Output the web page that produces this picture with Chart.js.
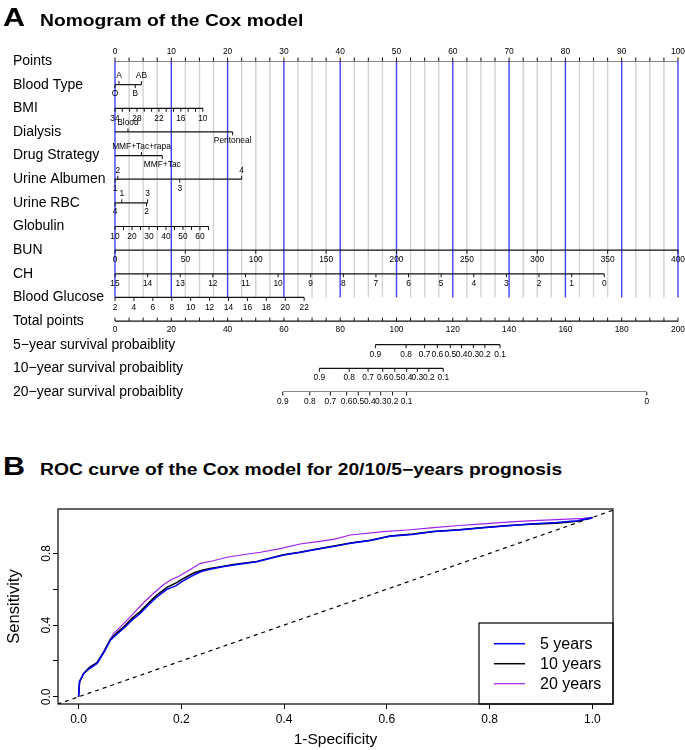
<!DOCTYPE html>
<html lang="en">
<head>
  <meta charset="UTF-8">
  <title>Nomogram and ROC curve of the Cox model</title>
  <script src="https://cdn.jsdelivr.net/npm/chart.js"></script>
  <style>
    body {
      margin: 0;
      background: #fff;
      font-family: 'Liberation Sans', Arial, Helvetica, sans-serif;
    }
    .page { position: relative; width: 685px; height: 750px; overflow: hidden; }
    .tag, .head {
      position: absolute;
      font-weight: bold;
      color: #000;
      line-height: 1;
      white-space: nowrap;
      transform-origin: 0 0;
      transform: scaleX(1.22);
    }
    .tag { font-size: 25px; }
    .head { font-size: 15.8px; }
    #nomo { position: absolute; left: 0; top: 0; }
    #roc { position: absolute; left: 0; top: 495px; }
  </style>
</head>
<body>
<div class="page">
  <canvas id="nomo" width="685" height="410" style="width:685px;height:410px"></canvas>
  <canvas id="roc" width="685" height="255" style="width:685px;height:255px"></canvas>
  <div class="tag" style="left:3px;top:5px">A</div>
  <div class="head" style="left:40px;top:13px">Nomogram of the Cox model</div>
  <div class="tag" style="left:3px;top:454px">B</div>
  <div class="head" style="left:40px;top:462px">ROC curve of the Cox model for 20/10/5&minus;years prognosis</div>
</div>

<script>
  const FONT = "'Liberation Sans', Arial, Helvetica, sans-serif";

  // ---- nomogram data ----
  const rowNames = ['Points', 'Blood Type', 'BMI', 'Dialysis', 'Drug Strategy', 'Urine Albumen',
    'Urine RBC', 'Globulin', 'BUN', 'CH', 'Blood Glucose', 'Total points',
    '5\u2212year survival probaiblity', '10\u2212year survival probaiblity', '20\u2212year survival probaiblity'];

  const pointsLabels = [0, 10, 20, 30, 40, 50, 60, 70, 80, 90, 100];
  const pointsMinorStep = 2.5;

  const bloodTypeLevels = ['O', 'A', 'B', 'AB'];
  const bloodTypePoints = [0, 0.7, 3.6, 4.7];

  const bmiTicks = [34, 32, 30, 28, 26, 24, 22, 20, 18, 16, 14, 12, 10];
  const bmiLabels = [34, 28, 22, 16, 10];
  const bmiPoints = [0, 15.6];

  const dialysisLevels = ['Blood', 'Peritoneal'];
  const dialysisPoints = [2.3, 20.9];

  const drugLevels = ['MMF+Tac+rapa', 'MMF+Tac'];
  const drugPoints = [4.7, 8.4];

  const albumenLevels = ['1', '2', '3', '4'];
  const albumenPoints = [0, 0.5, 11.5, 22.5];

  const rbcLevels = ['4', '1', '2', '3'];
  const rbcPoints = [0, 1.2, 5.6, 5.8];

  const globulinTicks = [10, 15, 20, 25, 30, 35, 40, 45, 50, 55, 60, 65];
  const globulinLabels = [10, 20, 30, 40, 50, 60];
  const globulinPoints = [0, 16.6];

  const bunTicks = [0, 50, 100, 150, 200, 250, 300, 350, 400];
  const bunPoints = [0, 100];

  const chTicks = [15, 14, 13, 12, 11, 10, 9, 8, 7, 6, 5, 4, 3, 2, 1, 0];
  const chPoints = [0, 86.9];

  const glucoseTicks = [2, 4, 6, 8, 10, 12, 14, 16, 18, 20, 22];
  const glucosePoints = [0, 33.6];

  const totalLabels = [0, 20, 40, 60, 80, 100, 120, 140, 160, 180, 200];
  const totalMinorStep = 5;

  const survLabels = ['0.9', '0.8', '0.7', '0.6', '0.5', '0.4', '0.3', '0.2', '0.1'];
  const surv5Total = [92.5, 103.4, 110.0, 114.5, 119.1, 123.1, 127.3, 131.4, 136.8];
  const surv10Total = [72.6, 83.2, 89.9, 95.1, 99.4, 103.6, 107.4, 111.5, 116.6];
  const surv20Labels = ['0.9', '0.8', '0.7', '0.6', '0.5', '0.4', '0.3', '0.2', '0.1', '0'];
  const surv20Total = [59.6, 69.2, 76.5, 82.3, 86.4, 90.5, 94.4, 98.6, 103.6, 188.9];

  // ---- ROC data ----
  const seriesNames = ['5 years', '10 years', '20 years'];
  const fpr5 = [0, 0.002, 0.01, 0.02, 0.036, 0.05, 0.062, 0.075, 0.088, 0.105, 0.12, 0.137, 0.153, 0.172, 0.19,
    0.201, 0.224, 0.24, 0.256, 0.28, 0.302, 0.347, 0.399, 0.43, 0.464, 0.5, 0.529, 0.568, 0.606, 0.65, 0.691,
    0.74, 0.788, 0.83, 0.879, 0.93, 0.97, 0.995, 1.0];
  const tpr5 = [0, 0.085, 0.13, 0.155, 0.186, 0.25, 0.316, 0.35, 0.382, 0.43, 0.465, 0.515, 0.558, 0.599, 0.62,
    0.642, 0.679, 0.70, 0.711, 0.725, 0.735, 0.753, 0.791, 0.805, 0.822, 0.84, 0.856, 0.871, 0.895, 0.905, 0.921,
    0.93, 0.943, 0.952, 0.964, 0.972, 0.982, 0.995, 1.0];
  const fpr10 = fpr5;
  const tpr10 = [0, 0.085, 0.13, 0.16, 0.19, 0.255, 0.32, 0.358, 0.39, 0.44, 0.475, 0.525, 0.568, 0.61, 0.635,
    0.655, 0.69, 0.706, 0.716, 0.727, 0.737, 0.755, 0.792, 0.806, 0.824, 0.842, 0.858, 0.873, 0.897, 0.907, 0.922,
    0.931, 0.944, 0.953, 0.962, 0.968, 0.978, 0.995, 1.0];
  const fpr20 = [0, 0.002, 0.01, 0.023, 0.036, 0.05, 0.068, 0.085, 0.107, 0.125, 0.146, 0.165, 0.179, 0.195, 0.211,
    0.237, 0.26, 0.289, 0.32, 0.354, 0.39, 0.431, 0.465, 0.496, 0.529, 0.593, 0.64, 0.691, 0.74, 0.788, 0.84,
    0.885, 0.93, 0.982, 1.0];
  const tpr20 = [0, 0.085, 0.13, 0.171, 0.19, 0.26, 0.353, 0.40, 0.465, 0.52, 0.577, 0.625, 0.651, 0.672, 0.698,
    0.744, 0.757, 0.778, 0.792, 0.806, 0.825, 0.852, 0.865, 0.878, 0.902, 0.921, 0.93, 0.943, 0.955, 0.964, 0.975,
    0.982, 0.988, 0.995, 1.0];
  const chanceLine = [-0.1, 1.1];
  const rocXTicks = [0, 0.2, 0.4, 0.6, 0.8, 1.0];
  const rocYTicks = [0, 0.2, 0.4, 0.6, 0.8];
  const rocYLabels = [0, 0.4, 0.8];

  // ---- helpers ----
  function label(ctx, txt, x, y, size, align) {
    ctx.font = size + 'px ' + FONT;
    ctx.textAlign = align;
    ctx.textBaseline = 'middle';
    ctx.fillStyle = '#000';
    ctx.fillText(txt, x, y);
  }

  function tickMark(ctx, px, py, dir) {
    ctx.beginPath();
    ctx.moveTo(px, py);
    ctx.lineTo(px, py + dir * 3.5);
    ctx.stroke();
  }

  // value -> points for a continuous row (linear between first and last tick)
  const toPts = (row, v) => {
    const v0 = row.ticks[0], v1 = row.ticks[row.ticks.length - 1];
    return row.pts[0] + (v - v0) / (v1 - v0) * (row.pts[1] - row.pts[0]);
  };

  const rows = [
    { kind: 'points' },
    { kind: 'cat', levels: bloodTypeLevels, pts: bloodTypePoints },
    { kind: 'cont', ticks: bmiTicks, labels: bmiLabels, pts: bmiPoints },
    { kind: 'cat', levels: dialysisLevels, pts: dialysisPoints },
    { kind: 'cat', levels: drugLevels, pts: drugPoints },
    { kind: 'cat', levels: albumenLevels, pts: albumenPoints },
    { kind: 'cat', levels: rbcLevels, pts: rbcPoints },
    { kind: 'cont', ticks: globulinTicks, labels: globulinLabels, pts: globulinPoints },
    { kind: 'cont', ticks: bunTicks, labels: bunTicks, pts: bunPoints },
    { kind: 'cont', ticks: chTicks, labels: chTicks, pts: chPoints },
    { kind: 'cont', ticks: glucoseTicks, labels: glucoseTicks, pts: glucosePoints },
    { kind: 'total' },
    { kind: 'surv', labels: survLabels, pts: surv5Total },
    { kind: 'surv', labels: survLabels, pts: surv10Total },
    { kind: 'surv', labels: surv20Labels, pts: surv20Total }
  ];

  // one axis line per row
  const nomoDatasets = rows.map((row, r) => {
    let from = 0, to = 0, axis = 'x';
    if (row.kind === 'points') to = pointsLabels[pointsLabels.length - 1];
    else if (row.kind === 'cat' || row.kind === 'cont') to = Math.max(...row.pts);
    else if (row.kind === 'total') { to = totalLabels[totalLabels.length - 1]; axis = 'x2'; }
    else { from = Math.min(...row.pts); to = Math.max(...row.pts); axis = 'x2'; }
    return {
      label: rowNames[r],
      data: [{ x: from, y: r }, { x: to, y: r }],
      xAxisID: axis,
      showLine: true,
      borderColor: '#111',
      borderWidth: 1.2,
      pointRadius: 0
    };
  });

  const nomoPlugin = {
    id: 'nomoAxes',
    beforeDatasetsDraw(chart) {
      const { ctx, scales: { x, y } } = chart;
      const top = y.getPixelForValue(0), bottom = y.getPixelForValue(10);
      ctx.save();
      ctx.lineWidth = 1.4;
      const maxPts = pointsLabels[pointsLabels.length - 1];
      for (let v = 0; v <= maxPts + 1e-9; v += pointsMinorStep) {
        const px = x.getPixelForValue(v);
        ctx.strokeStyle = (v % 10 === 0) ? 'rgba(30,30,255,0.85)' : '#d2d2d2';
        ctx.beginPath();
        ctx.moveTo(px, top);
        ctx.lineTo(px, bottom);
        ctx.stroke();
      }
      ctx.restore();
    },
    afterDatasetsDraw(chart) {
      const { ctx, scales: { x, x2, y } } = chart;
      ctx.save();
      ctx.strokeStyle = '#111';
      ctx.lineWidth = 1;
      const fs = 8.4;
      rows.forEach((row, r) => {
        const py = y.getPixelForValue(r);
        label(ctx, rowNames[r], 13, py, 14, 'left');
        if (row.kind === 'points') {
          const maxPts = pointsLabels[pointsLabels.length - 1];
          for (let v = 0; v <= maxPts + 1e-9; v += pointsMinorStep) tickMark(ctx, x.getPixelForValue(v), py, -1);
          pointsLabels.forEach(v => label(ctx, String(v), x.getPixelForValue(v), py - 9.5, fs, 'center'));
        } else if (row.kind === 'cat') {
          const order = row.pts.map((p, i) => i).sort((a, b) => row.pts[a] - row.pts[b]);
          const offset = Math.min(...row.pts) > 0.01 ? 1 : 0; // reference level at 0 has no label
          order.forEach((i, rank) => {
            const px = x.getPixelForValue(row.pts[i]);
            const dir = (rank + offset) % 2 === 0 ? 1 : -1;
            tickMark(ctx, px, py, dir);
            label(ctx, row.levels[i], px, py + dir * 9, fs, 'center');
          });
        } else if (row.kind === 'cont') {
          row.ticks.forEach(v => tickMark(ctx, x.getPixelForValue(toPts(row, v)), py, 1));
          row.labels.forEach(v => label(ctx, String(v), x.getPixelForValue(toPts(row, v)), py + 10, fs, 'center'));
        } else if (row.kind === 'total') {
          const maxT = totalLabels[totalLabels.length - 1];
          for (let v = 0; v <= maxT + 1e-9; v += totalMinorStep) tickMark(ctx, x2.getPixelForValue(v), py, -1);
          totalLabels.forEach(v => label(ctx, String(v), x2.getPixelForValue(v), py + 8.5, fs, 'center'));
        } else {
          row.pts.forEach((p, i) => {
            const px = x2.getPixelForValue(p);
            tickMark(ctx, px, py, 1);
            label(ctx, row.labels[i], px, py + 9.5, fs, 'center');
          });
        }
      });
      ctx.restore();
    }
  };

  new Chart(document.getElementById('nomo'), {
    type: 'scatter',
    data: { datasets: nomoDatasets },
    options: {
      responsive: false,
      animation: false,
      devicePixelRatio: 1,
      events: [],
      layout: { padding: { left: 115, right: 7, top: 61, bottom: 18 } },
      plugins: { legend: { display: false }, tooltip: { enabled: false } },
      scales: {
        x: { type: 'linear', min: 0, max: 100, display: false },
        x2: { type: 'linear', min: 0, max: 200, display: false },
        y: { type: 'linear', min: 0, max: 14, reverse: true, display: false }
      }
    },
    plugins: [nomoPlugin]
  });

  // ---- ROC chart ----
  const zip = (xs, ys) => xs.map((v, i) => ({ x: v, y: ys[i] }));

  const rocFrame = {
    id: 'rocFrame',
    afterDraw(chart) {
      const { ctx, chartArea: a, scales: { y } } = chart;
      ctx.save();
      ctx.strokeStyle = '#000';
      ctx.lineWidth = 1.2;
      ctx.strokeRect(a.left, a.top, a.right - a.left, a.bottom - a.top);
      // y tick labels, vertical like R
      rocYLabels.forEach(v => {
        ctx.save();
        ctx.translate(46.7, y.getPixelForValue(v));
        ctx.rotate(-Math.PI / 2);
        label(ctx, v.toFixed(1), 0, 0, 12, 'center');
        ctx.restore();
      });
      // legend box in the bottom-right corner
      const w = 134, h = 81;
      const lx = a.right - w, ly = a.bottom - h;
      ctx.lineWidth = 1.2;
      ctx.strokeRect(lx, ly, w, h);
      chart.data.datasets.slice(0, 3).forEach((ds, i) => {
        const ty = ly + 20.7 + i * 20;
        ctx.strokeStyle = ds.borderColor;
        ctx.lineWidth = ds.borderWidth;
        ctx.beginPath();
        ctx.moveTo(lx + 15, ty);
        ctx.lineTo(lx + 46, ty);
        ctx.stroke();
        label(ctx, ds.label, lx + 61, ty + 1, 16, 'left');
      });
      ctx.restore();
    }
  };

  new Chart(document.getElementById('roc'), {
    type: 'scatter',
    data: {
      datasets: [
        { label: seriesNames[0], data: zip(fpr5, tpr5), showLine: true, borderColor: '#0000ff', borderWidth: 1.5, pointRadius: 0 },
        { label: seriesNames[1], data: zip(fpr10, tpr10), showLine: true, borderColor: '#000000', borderWidth: 1.5, pointRadius: 0 },
        { label: seriesNames[2], data: zip(fpr20, tpr20), showLine: true, borderColor: '#a020f0', borderWidth: 1.2, pointRadius: 0 },
        { label: 'chance', data: zip(chanceLine, chanceLine), showLine: true, borderColor: '#000', borderWidth: 1.2, borderDash: [4, 4], pointRadius: 0 }
      ]
    },
    options: {
      responsive: false,
      animation: false,
      devicePixelRatio: 1,
      events: [],
      layout: { padding: { left: 0, right: 72, top: 14, bottom: 0 } },
      plugins: { legend: { display: false }, tooltip: { enabled: false } },
      scales: {
        x: {
          type: 'linear', min: -0.04, max: 1.04,
          afterBuildTicks: s => { s.ticks = rocXTicks.map(v => ({ value: v })); },
          afterFit: s => { s.height = 46; },
          grid: { drawOnChartArea: false, drawTicks: true, tickLength: 5, color: '#000', lineWidth: 1 },
          border: { display: false },
          ticks: { color: '#000', padding: 3, font: { size: 12, family: FONT }, callback: v => Number(v).toFixed(1) },
          title: { display: true, text: '1-Specificity', color: '#000', font: { size: 15.5, family: FONT }, padding: { top: 0, bottom: 1 } }
        },
        y: {
          type: 'linear', min: -0.04, max: 1.047,
          afterBuildTicks: s => { s.ticks = rocYTicks.map(v => ({ value: v })); },
          afterFit: s => { s.width = 58; },
          grid: { drawOnChartArea: false, drawTicks: true, tickLength: 5, color: '#000', lineWidth: 1 },
          border: { display: false },
          ticks: { display: false },
          title: { display: true, text: 'Sensitivity', color: '#000', font: { size: 16.5, family: FONT }, padding: { top: 5, bottom: 0 } }
        }
      }
    },
    plugins: [rocFrame]
  });
</script>
</body>
</html>
